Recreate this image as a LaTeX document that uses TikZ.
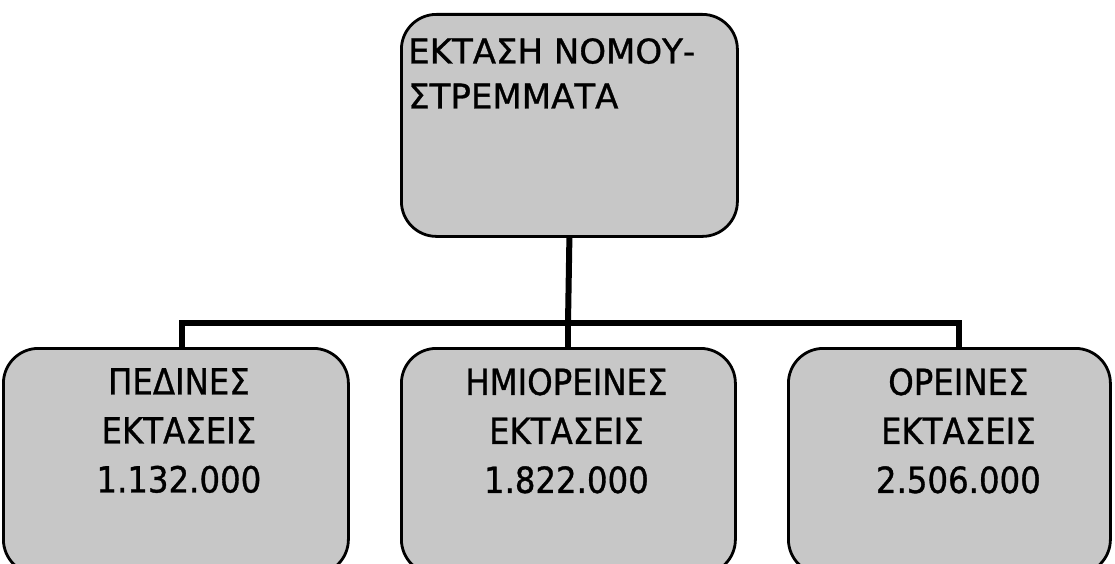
\documentclass[tikz,border=0pt]{standalone}
\usepackage{fontspec}
\setmainfont[UprightFeatures={FakeBold=0.9}]{DejaVu Sans}
\newfontfamily\narrowfont[FakeStretch=0.9, UprightFeatures={FakeBold=0.9}]{DejaVu Sans}
\usetikzlibrary{positioning}

\begin{document}
\begin{tikzpicture}[x=1pt,y=-1pt]
\tikzset{
  box/.style={draw=black, line width=2.8pt, fill=black!22, rounded corners=35pt, inner sep=0pt},
  txt/.style={align=center, font=\narrowfont\fontsize{36}{49}\selectfont, inner sep=0pt},
  link/.style={line width=6pt}
}
\useasboundingbox (0,0) rectangle (1115,564);
\clip (0,0) rectangle (1115,564);

\def\ya{13};
\def\yb{347};
\def\hb{226};

% top box
\node[box, anchor=north west, minimum width=336pt, minimum height=222pt] (nomos) at (400,\ya) {};
\node[txt, align=left, font=\fontsize{34}{45}\selectfont, below right=25pt and 8pt of nomos.north west] (nomosText) {ΕΚΤΑΣΗ ΝΟΜΟΥ-\\ΣΤΡΕΜΜΑΤΑ};

% bottom boxes
\node[box, anchor=north west, minimum width=345pt, minimum height=\hb pt] (ped) at (2,\yb) {};
\node[box, anchor=north west, minimum width=334pt, minimum height=\hb pt] (hmi) at (400,\yb) {};
\node[box, anchor=north west, minimum width=322pt, minimum height=\hb pt] (ore) at (787,\yb) {};

\node[txt, below=21pt of ped.north, xshift=3pt] (pedText) {ΠΕΔΙΝΕΣ\\ΕΚΤΑΣΕΙΣ\\1.132.000};
\node[txt, below=21pt of hmi.north, xshift=-2pt] (hmiText) {ΗΜΙΟΡΕΙΝΕΣ\\ΕΚΤΑΣΕΙΣ\\1.822.000};
\node[txt, below=21pt of ore.north, xshift=9pt] (oreText) {ΟΡΕΙΝΕΣ\\ΕΚΤΑΣΕΙΣ\\2.506.000};

% connectors
\coordinate (fork) at (568,323);
\draw[link] (nomos.south) -- (fork);
\draw[link] (fork) -| ([xshift=6pt]ped.north);
\draw[link] (fork) -- (fork |- hmi.north);
\draw[link] (fork) -| ([xshift=10pt]ore.north);
\end{tikzpicture}
\end{document}
